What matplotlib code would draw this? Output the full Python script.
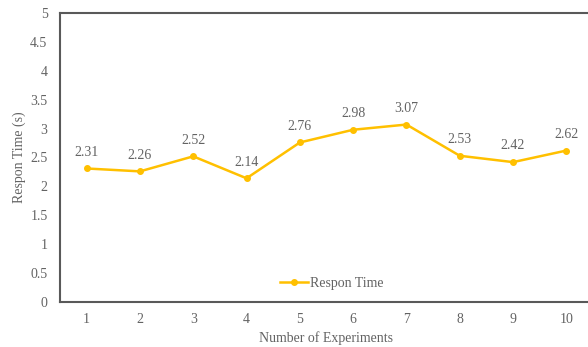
import matplotlib.pyplot as plt

experiments = [1, 2, 3, 4, 5, 6, 7, 8, 9, 10]
respon_time = [2.31, 2.26, 2.52, 2.14, 2.76, 2.98, 3.07, 2.53, 2.42, 2.62]
y_ticks = [0, 0.5, 1, 1.5, 2, 2.5, 3, 3.5, 4, 4.5, 5]

gold = "#FFC000"
grey = "#595959"
text_grey = "#636363"

plt.rcParams["font.family"] = ["Liberation Serif", "DejaVu Serif"]

fig = plt.figure(figsize=(5.88, 3.47), dpi=100)
ax = fig.add_axes([60 / 588, 45 / 347, 533 / 588, 289 / 347])

ax.plot(experiments, respon_time, color=gold, linewidth=1.8, marker="o",
        markersize=4, label="Respon Time")
for x, y in zip(experiments, respon_time):
    ax.annotate(f"{y:.2f}", (x, y), xytext=(0, 7), textcoords="offset points",
                ha="center", va="bottom", fontsize=10, color=text_grey)

ax.set_xlim(0.5, 10.5)
ax.set_ylim(0, 5)
ax.set_xticks(experiments)
ax.set_yticks(y_ticks)
ax.set_yticklabels([f"{t:g}" for t in y_ticks])
ax.tick_params(length=0, labelsize=10, labelcolor=text_grey, pad=9)
ax.tick_params(axis="x", pad=8)

for side in ["left", "top", "bottom"]:
    ax.spines[side].set_color(grey)
    ax.spines[side].set_linewidth(1.5)
ax.spines["right"].set_visible(False)

ax.set_xlabel("Number of Experiments", fontsize=10, color=text_grey, labelpad=4)
ax.set_ylabel("Respon Time (s)", fontsize=10, color=text_grey, labelpad=3)

leg = ax.legend(loc="lower center", frameon=False, fontsize=10,
                handlelength=2, handletextpad=0.1, bbox_to_anchor=(0.51, 0.0))
for t in leg.get_texts():
    t.set_color(text_grey)

fig.savefig("out.png", dpi=100)
